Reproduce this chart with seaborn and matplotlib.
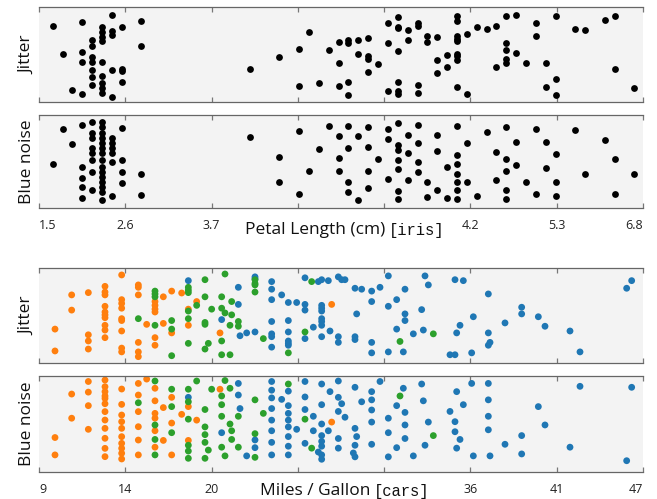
import matplotlib
matplotlib.use("Agg")
import matplotlib.pyplot as plt
import numpy as np
import pandas as pd
import seaborn as sns

# iris petal length (cm), jitter panel: x value, y offset (0 = top of band)
IRIS_JITTER_X = [
    1.0, 1.3, 1.6, 1.5, 1.5, 1.5, 1.5, 1.6, 1.6, 1.7, 1.9, 1.9, 1.4, 1.4, 1.1, 1.3, 1.3,
    1.4, 1.4, 1.5, 1.4, 1.4, 1.5, 1.5, 1.5, 1.5, 1.6, 1.7, 1.7, 1.7, 1.4, 1.2, 1.3, 1.6,
    3.0, 3.3, 3.5, 3.5, 3.6, 3.7, 3.8, 3.9, 3.9, 3.9, 4.0, 4.0, 4.0, 4.0, 4.1, 4.1, 4.2,
    4.2, 4.2, 4.2, 4.3, 4.4, 4.4, 4.4, 4.5, 4.5, 4.5, 4.5, 4.5, 4.5, 4.5, 4.6, 4.6, 4.7,
    4.7, 4.7, 4.7, 4.8, 4.8, 4.9, 4.9, 4.9, 5.0, 5.0,
    5.1, 5.1, 5.1, 5.1, 5.1, 5.1, 5.1, 5.1, 5.1, 5.2, 5.2, 5.3, 5.4, 5.5, 5.5, 5.6, 5.6,
    5.6, 5.6, 5.6, 5.7, 5.7, 5.8, 5.9, 5.9, 6.0, 6.0, 6.1, 6.1, 6.1, 6.3, 6.4, 6.6, 6.7,
    6.7, 6.9,
]
IRIS_JITTER_Y = [
    0.20, 0.16, 0.08, 0.21, 0.26, 0.31, 0.36, 0.25, 0.29, 0.21, 0.145, 0.41, 0.35, 0.41,
    0.49, 0.47, 0.58, 0.53, 0.58, 0.58, 0.66, 0.735, 0.73, 0.80, 0.86, 0.91, 0.66, 0.65,
    0.68, 0.79, 0.82, 0.88, 0.92, 0.95,
    0.65, 0.53, 0.445, 0.83, 0.265, 0.805, 0.455, 0.365, 0.59, 0.83, 0.35, 0.375, 0.79,
    0.93, 0.35, 0.49, 0.32, 0.515, 0.55, 0.685, 0.60, 0.17, 0.375, 0.89, 0.106, 0.205,
    0.22, 0.46, 0.79, 0.885, 0.92, 0.245, 0.35, 0.17, 0.195, 0.82, 0.91, 0.305, 0.365,
    0.315, 0.56, 0.70, 0.505, 0.635,
    0.09, 0.145, 0.305, 0.34, 0.36, 0.49, 0.52, 0.56, 0.84, 0.285, 0.92, 0.205, 0.235,
    0.195, 0.63, 0.09, 0.38, 0.45, 0.55, 0.59, 0.08, 0.48, 0.59, 0.17, 0.30, 0.59, 0.84,
    0.09, 0.76, 0.93, 0.235, 0.24, 0.135, 0.09, 0.655, 0.85,
]

# iris petal length, blue noise panel
IRIS_BLUE_X = [
    1.0, 1.1, 1.2, 1.3, 1.3, 1.3, 1.3, 1.3,
    1.4, 1.4, 1.4, 1.4, 1.4, 1.4, 1.4, 1.4,
    1.5, 1.5, 1.5, 1.5, 1.5, 1.5, 1.5, 1.5, 1.5, 1.5, 1.5, 1.5, 1.5, 1.5, 1.5,
    1.6, 1.6, 1.6, 1.6, 1.6, 1.6, 1.7, 1.7, 1.7, 1.7, 1.9, 1.9,
    3.0, 3.3, 3.3, 3.5, 3.5, 3.6, 3.7, 3.8, 3.9, 3.9, 3.9, 4.0, 4.0, 4.0, 4.0, 4.1, 4.1,
    4.2, 4.2, 4.2, 4.2, 4.3, 4.4, 4.4, 4.4, 4.5, 4.5, 4.5, 4.5, 4.5, 4.5, 4.5, 4.6, 4.6,
    4.6, 4.7, 4.7, 4.7, 4.7, 4.8, 4.8, 4.9, 4.9, 4.9, 5.0, 5.0,
    5.1, 5.1, 5.1, 5.1, 5.1, 5.1, 5.1, 5.2, 5.2, 5.3, 5.4, 5.5, 5.5, 5.6, 5.6, 5.6, 5.6,
    5.6, 5.7, 5.7, 5.8, 5.9, 5.9, 6.0, 6.0, 6.1, 6.1, 6.1, 6.3, 6.4, 6.6, 6.7, 6.7, 6.9,
]
IRIS_BLUE_Y = [
    0.52, 0.155, 0.315, 0.11, 0.56, 0.67, 0.77, 0.89,
    0.08, 0.19, 0.25, 0.355, 0.41, 0.48, 0.61, 0.80,
    0.08, 0.125, 0.195, 0.25, 0.305, 0.355, 0.41, 0.48, 0.555, 0.61, 0.66, 0.715, 0.77,
    0.83, 0.91,
    0.25, 0.305, 0.355, 0.41, 0.505, 0.865, 0.135, 0.48, 0.615, 0.73, 0.63, 0.855,
    0.24, 0.445, 0.72, 0.17, 0.85, 0.60, 0.365, 0.115, 0.23, 0.465, 0.60, 0.115, 0.355,
    0.72, 0.83, 0.225, 0.91, 0.125, 0.345, 0.595, 0.785, 0.47, 0.15, 0.26, 0.69, 0.09,
    0.32, 0.38, 0.48, 0.58, 0.815, 0.90, 0.215, 0.405, 0.70, 0.11, 0.305, 0.50, 0.61,
    0.72, 0.88, 0.215, 0.385, 0.80, 0.555, 0.89,
    0.115, 0.43, 0.53, 0.63, 0.72, 0.80, 0.90, 0.305, 0.72, 0.87, 0.18, 0.395, 0.70,
    0.13, 0.47, 0.60, 0.80, 0.90, 0.29, 0.535, 0.72, 0.145, 0.85, 0.285, 0.57, 0.42,
    0.72, 0.87, 0.16, 0.63, 0.265, 0.47, 0.85, 0.63,
]

# cars miles per gallon, jitter panel, one pair of lists per colour group
CARS_JITTER_8CYL_X = [
    10.0, 10.0, 11.0, 11.0, 12.0, 12.0, 12.0, 12.0, 13.0, 13.0, 13.0, 13.0, 13.0, 13.0,
    13.0, 13.0, 13.0, 13.0, 14.0, 14.0, 14.0, 14.0, 14.0, 14.0, 14.0, 14.0, 14.0, 15.0,
    15.0, 15.0, 15.0, 15.0, 15.0, 15.5, 16.0, 16.0, 16.0, 16.0, 16.0, 16.0, 16.5, 16.5,
    17.0, 17.0, 17.6, 18.0, 18.0, 18.5, 19.9, 26.6,
]
CARS_JITTER_8CYL_Y = [
    0.64, 0.87, 0.28, 0.44, 0.256, 0.70, 0.765, 0.85, 0.19, 0.25, 0.28, 0.40, 0.46, 0.49,
    0.52, 0.60, 0.65, 0.73, 0.07, 0.33, 0.37, 0.42, 0.53, 0.55, 0.66, 0.84, 0.88, 0.175,
    0.20, 0.28, 0.78, 0.88, 0.93, 0.59, 0.35, 0.39, 0.43, 0.46, 0.73, 0.81, 0.30, 0.58,
    0.24, 0.68, 0.26, 0.43, 0.60, 0.35, 0.68, 0.38,
]
CARS_JITTER_6CYL_X = [
    15.0, 16.0, 16.0, 16.0, 16.0, 17.0, 17.0, 17.0, 18.0, 18.0, 18.0, 18.0, 18.0, 18.0,
    18.5, 19.0, 20.2, 19.0, 20.0, 20.6, 19.4, 20.0, 20.2, 20.6, 19.0, 19.0, 21.0, 21.0,
    20.5, 20.0, 19.2, 19.0, 20.0, 20.5, 22.0, 22.0, 22.0, 22.0, 22.5, 24.0, 25.0, 25.4,
    30.7, 32.7,
]
CARS_JITTER_6CYL_Y = [
    0.53, 0.24, 0.27, 0.30, 0.60, 0.55, 0.64, 0.92, 0.20, 0.23, 0.256, 0.45, 0.53, 0.79,
    0.39, 0.12, 0.06, 0.30, 0.30, 0.35, 0.43, 0.42, 0.47, 0.49, 0.57, 0.59, 0.56, 0.61,
    0.60, 0.765, 0.79, 0.85, 0.91, 0.91, 0.12, 0.16, 0.175, 0.25, 0.74, 0.89, 0.67, 0.14,
    0.77, 0.69,
]
CARS_JITTER_4CYL_X = [
    18.0, 22.0, 22.0, 21.0, 21.0, 20.0, 21.1, 21.5, 22.0, 23.0, 23.0, 23.0, 23.0, 23.0,
    23.0, 23.0, 23.6, 24.0, 24.0, 24.0, 24.0, 24.0, 24.0, 24.5, 25.0, 25.0, 25.0, 25.0,
    25.5, 25.8, 26.0, 26.4, 26.0, 26.0, 26.0, 26.0, 26.0, 26.0, 26.0, 26.5, 27.0, 27.2,
    27.4, 27.0, 27.0, 28.0, 28.1, 28.0, 28.0, 28.4, 29.0, 29.0, 29.5, 29.0, 29.0, 30.0,
    30.0, 30.5, 30.0, 30.5, 31.0, 31.0, 31.0, 30.9, 31.5, 32.0, 32.1, 32.2, 32.4,
    34.0, 34.5, 36.0, 35.1, 34.3, 34.1, 36.0, 36.1, 36.0, 33.7, 34.0, 35.0, 37.0, 38.0,
    38.0, 39.0, 39.4, 40.9, 41.5, 44.3, 44.6,
]
CARS_JITTER_4CYL_Y = [
    0.13, 0.09, 0.11, 0.20, 0.38, 0.54, 0.71, 0.68, 0.67, 0.14, 0.22, 0.33, 0.56, 0.69,
    0.72, 0.83, 0.28, 0.36, 0.55, 0.67, 0.765, 0.79, 0.81, 0.36, 0.10, 0.38, 0.44, 0.74,
    0.62, 0.14, 0.12, 0.13, 0.39, 0.42, 0.45, 0.53, 0.56, 0.60, 0.72, 0.66, 0.09, 0.12,
    0.12, 0.72, 0.78, 0.21, 0.48, 0.72, 0.75, 0.22, 0.24, 0.35, 0.20, 0.78, 0.89, 0.08,
    0.40, 0.33, 0.88, 0.64, 0.22, 0.48, 0.55, 0.88, 0.69, 0.435, 0.65, 0.08, 0.175,
    0.12, 0.13, 0.27, 0.51, 0.60, 0.68, 0.68, 0.78, 0.81, 0.91, 0.91, 0.89, 0.575, 0.41,
    0.48, 0.51, 0.61, 0.66, 0.88, 0.21, 0.13,
]

# cars miles per gallon, blue noise panel
CARS_BLUE_8CYL_X = [
    10.0, 10.0, 11.0, 11.0, 12.0, 12.0, 12.0, 12.0,
    13.0, 13.0, 13.0, 13.0, 13.0, 13.0, 13.0, 13.0, 13.0, 13.0, 13.0, 13.0,
    14.0, 14.0, 14.0, 14.0, 14.0, 14.0, 14.0, 14.0, 14.0, 14.0,
    15.0, 15.0, 15.0, 15.0, 15.0, 15.0, 15.5, 16.0, 16.0, 16.0, 16.0, 16.0, 16.0,
    16.5, 16.5, 17.0, 17.0, 17.0, 17.6, 18.0, 18.0, 18.5, 19.9, 26.6,
]
CARS_BLUE_8CYL_Y = [
    0.64, 0.82, 0.19, 0.44, 0.06, 0.17, 0.31, 0.555,
    0.045, 0.114, 0.165, 0.21, 0.235, 0.29, 0.372, 0.459, 0.545, 0.648, 0.752, 0.838,
    0.138, 0.297, 0.407, 0.476, 0.545, 0.631, 0.70, 0.752, 0.803, 0.862,
    0.08, 0.20, 0.372, 0.528, 0.666, 0.82, 0.035, 0.13, 0.26, 0.39, 0.44, 0.57, 0.74,
    0.33, 0.67, 0.224, 0.49, 0.82, 0.40, 0.32, 0.67, 0.46, 0.14, 0.48,
]
CARS_BLUE_6CYL_X = [
    16.0, 15.0, 16.0, 16.0, 16.0, 17.0, 17.0, 17.0, 18.0, 18.0, 18.0, 18.0, 18.0, 18.0,
    18.5, 19.0, 19.0, 19.0, 19.0, 19.0, 19.4, 20.2, 20.5, 20.0, 20.0, 20.0, 20.5, 20.6,
    20.6, 20.0, 20.2, 19.2, 21.0, 21.0, 22.0, 22.0, 22.0, 22.5, 24.0, 25.0, 25.4, 30.7,
    32.7,
]
CARS_BLUE_6CYL_Y = [
    0.055, 0.28, 0.51, 0.66, 0.82, 0.14, 0.32, 0.59, 0.14, 0.27, 0.45, 0.72, 0.78, 0.855,
    0.055, 0.53, 0.61, 0.69, 0.855, 0.35, 0.14, 0.05, 0.13, 0.21, 0.30, 0.42, 0.50, 0.57,
    0.66, 0.74, 0.83, 0.77, 0.42, 0.74, 0.25, 0.60, 0.845, 0.39, 0.086, 0.45, 0.75, 0.21,
    0.62,
]
CARS_BLUE_4CYL_X = [
    18.0, 21.0, 21.0, 21.1, 20.0, 21.5, 22.0, 22.0,
    23.0, 23.0, 23.0, 23.0, 23.0, 23.0, 23.0, 23.0, 23.6,
    24.0, 24.0, 24.0, 24.0, 24.0, 24.0, 24.0, 24.0, 24.5,
    25.0, 25.0, 25.0, 25.0, 25.5, 25.5, 25.8,
    26.0, 26.0, 26.0, 26.0, 26.0, 26.0, 26.0, 26.0, 26.4, 26.5,
    27.0, 27.0, 27.2, 27.0, 27.0, 27.0, 27.4, 28.0, 28.0, 28.1, 28.0, 27.9, 28.0, 28.4,
    29.0, 29.0, 29.0, 29.0, 29.0, 29.5, 30.0, 30.0, 30.0, 30.5, 30.5, 30.9, 31.0, 31.0,
    31.0, 31.5, 32.0, 32.1, 32.4, 32.2,
    35.0, 36.0, 34.1, 34.5, 33.7, 34.0, 34.0, 34.3, 34.1, 35.1, 36.0, 36.0, 36.0, 36.1,
    37.0, 38.0, 38.0, 39.0, 39.4, 40.9, 41.5, 44.3, 44.6,
]
CARS_BLUE_4CYL_Y = [
    0.224, 0.08, 0.20, 0.34, 0.59, 0.83, 0.665, 0.745,
    0.06, 0.15, 0.23, 0.34, 0.46, 0.57, 0.69, 0.82, 0.245,
    0.16, 0.31, 0.39, 0.46, 0.53, 0.63, 0.73, 0.82, 0.555,
    0.06, 0.22, 0.35, 0.70, 0.42, 0.57, 0.79,
    0.086, 0.30, 0.50, 0.62, 0.68, 0.73, 0.82, 0.865, 0.57, 0.165,
    0.055, 0.224, 0.29, 0.37, 0.65, 0.75, 0.43, 0.12, 0.545, 0.63, 0.72, 0.80, 0.84, 0.27,
    0.165, 0.25, 0.355, 0.48, 0.71, 0.06, 0.44, 0.59, 0.84, 0.31, 0.745, 0.13, 0.38, 0.51,
    0.65, 0.83, 0.086, 0.26, 0.48, 0.72,
    0.08, 0.08, 0.165, 0.30, 0.37, 0.476, 0.58, 0.66, 0.75, 0.83, 0.25, 0.42, 0.56, 0.83,
    0.71, 0.62, 0.81, 0.32, 0.51, 0.74, 0.11, 0.88, 0.12,
]

IRIS_TICK_LABELS = ["1.5", "2.6", "3.7", "", "", "4.2", "5.3", "6.8"]
CARS_TICK_LABELS = ["9", "14", "20", "", "", "36", "41", "47"]
IRIS_RANGE = (0.861, 6.987)
CARS_RANGE = (9.04, 45.28)

GROUP_COLORS = {"4 cyl": "#1f77b4", "8 cyl": "#ff7f0e", "6 cyl": "#2ca02c"}

W, H = 657, 499
PANEL_TOPS = [7.3, 115.0, 268.3, 375.7]
PANEL_BOTTOMS = [101.7, 208.3, 363.3, 472.3]


def cars_frame(x4, y4, x8, y8, x6, y6):
    parts = []
    for name, xs, ys in [("4 cyl", x4, y4), ("8 cyl", x8, y8), ("6 cyl", x6, y6)]:
        parts.append(pd.DataFrame({"mpg": xs, "offset": ys, "group": name}))
    return pd.concat(parts, ignore_index=True)


def style_panel(ax, xrange, labels, ylabel):
    ax.set_facecolor("#f3f3f3")
    ax.set_xlim(*xrange)
    ax.set_ylim(1, 0)
    ax.set_yticks([])
    ax.set_xlabel("")
    ax.set_ylabel(ylabel, fontsize=12.5, labelpad=3, color="#111111")
    for side in ["left", "right"]:
        ax.spines[side].set_visible(False)
    for side in ["top", "bottom"]:
        ax.spines[side].set_visible(True)
        ax.spines[side].set_color("#666666")
        ax.spines[side].set_linewidth(0.9)
    ticks = np.linspace(xrange[0], xrange[1], 8)
    ax.set_xticks(ticks)
    ax.tick_params(axis="x", direction="in", length=3.5, width=0.9, color="#777777",
                   top=True, bottom=True, pad=8, labelsize=9, labelcolor="#222222")
    if labels is None:
        ax.set_xticklabels([""] * 8)
    else:
        ax.set_xticklabels(labels)
        tl = ax.get_xticklabels()
        tl[0].set_ha("left")
        tl[-1].set_ha("right")


def two_font_label(fig, x_px, base_px, text, code):
    t = fig.text(x_px / W, 1 - base_px / H, text, fontsize=12.5, ha="left",
                 va="baseline", color="#111111")
    fig.axes[0].annotate(code, xy=(1, 0), xytext=(2.5, 0), xycoords=t,
                         textcoords="offset points", ha="left", va="bottom",
                         fontsize=11.2, family="Liberation Mono", color="#111111",
                         annotation_clip=False)


def main():
    sns.set_theme(style="white")
    plt.rcParams["font.family"] = ["Open Sans", "DejaVu Sans"]

    fig = plt.figure(figsize=(W / 100, H / 100), dpi=100)
    axes = []
    for top, bottom in zip(PANEL_TOPS, PANEL_BOTTOMS):
        axes.append(fig.add_axes([39 / W, 1 - bottom / H, 604 / W, (bottom - top) / H]))

    iris_jitter = pd.DataFrame({"length": IRIS_JITTER_X, "offset": IRIS_JITTER_Y})
    iris_blue = pd.DataFrame({"length": IRIS_BLUE_X, "offset": IRIS_BLUE_Y})
    cars_jitter = cars_frame(CARS_JITTER_4CYL_X, CARS_JITTER_4CYL_Y,
                             CARS_JITTER_8CYL_X, CARS_JITTER_8CYL_Y,
                             CARS_JITTER_6CYL_X, CARS_JITTER_6CYL_Y)
    cars_blue = cars_frame(CARS_BLUE_4CYL_X, CARS_BLUE_4CYL_Y,
                           CARS_BLUE_8CYL_X, CARS_BLUE_8CYL_Y,
                           CARS_BLUE_6CYL_X, CARS_BLUE_6CYL_Y)

    dot = dict(s=24, linewidth=0, legend=False)
    sns.scatterplot(data=iris_jitter, x="length", y="offset", color="black", ax=axes[0], **dot)
    sns.scatterplot(data=iris_blue, x="length", y="offset", color="black", ax=axes[1], **dot)
    sns.scatterplot(data=cars_jitter, x="mpg", y="offset", hue="group",
                    palette=GROUP_COLORS, ax=axes[2], **dot)
    sns.scatterplot(data=cars_blue, x="mpg", y="offset", hue="group",
                    palette=GROUP_COLORS, ax=axes[3], **dot)

    style_panel(axes[0], IRIS_RANGE, None, "Jitter")
    style_panel(axes[1], IRIS_RANGE, IRIS_TICK_LABELS, "Blue noise")
    style_panel(axes[2], CARS_RANGE, None, "Jitter")
    style_panel(axes[3], CARS_RANGE, CARS_TICK_LABELS, "Blue noise")

    two_font_label(fig, 245, 234, "Petal Length (cm)", "[iris]")
    two_font_label(fig, 260, 495, "Miles / Gallon", "[cars]")

    fig.savefig("out.png", dpi=100)
    plt.close(fig)


if __name__ == "__main__":
    main()
